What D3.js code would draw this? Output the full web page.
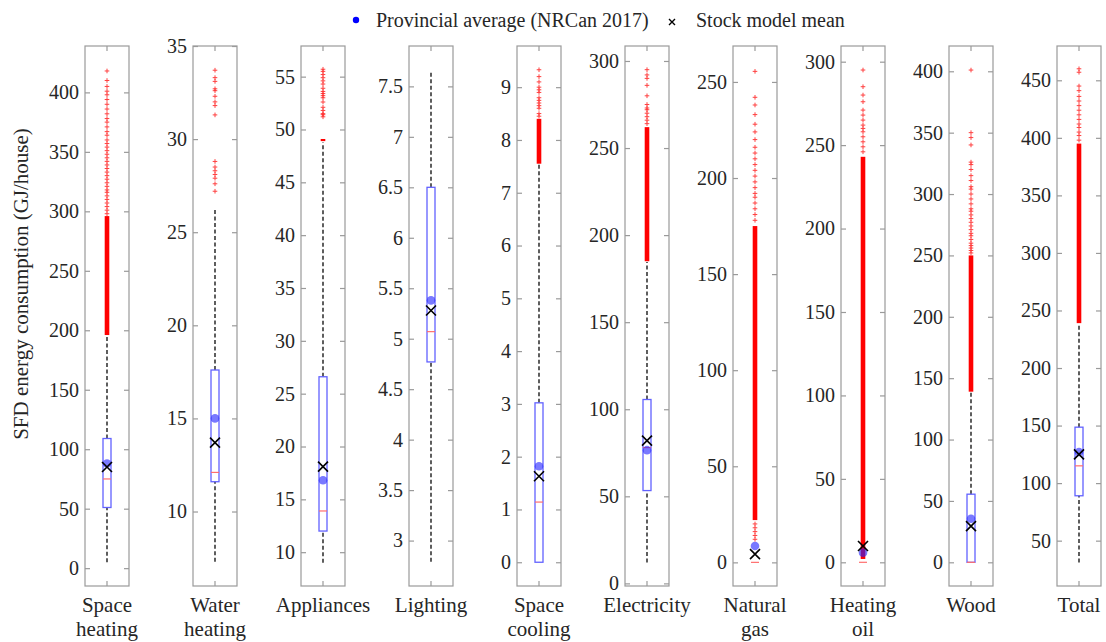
<!DOCTYPE html>
<html>
<head>
<meta charset="utf-8">
<script src="https://cdn.jsdelivr.net/npm/d3@7"></script>
<style>
  body { margin: 0; background: #fff; }
  text { font-family: "Liberation Serif", "Times New Roman", serif; fill: #262626; }
</style>
</head>
<body>
<svg id="chart" width="1106" height="642"></svg>
<script>
// category labels (one entry per panel, split over lines)
const categories = [["Space", "heating"], ["Water", "heating"], ["Appliances"], ["Lighting"],
  ["Space", "cooling"], ["Electricity"], ["Natural", "gas"], ["Heating", "oil"], ["Wood"], ["Total"]];

// y limits and tick labels of each panel
const yLimits = [[-15, 439], [6, 35], [6.8, 57.9], [2.55, 7.9], [-0.45, 9.78],
  [-1.5, 308.6], [-12.3, 268.7], [-14.2, 309.4], [-19.3, 420.6], [10.6, 479.8]];
const yTicks = [
  [0, 50, 100, 150, 200, 250, 300, 350, 400],
  [10, 15, 20, 25, 30, 35],
  [10, 15, 20, 25, 30, 35, 40, 45, 50, 55],
  [3, 3.5, 4, 4.5, 5, 5.5, 6, 6.5, 7, 7.5],
  [0, 1, 2, 3, 4, 5, 6, 7, 8, 9],
  [0, 50, 100, 150, 200, 250, 300],
  [0, 50, 100, 150, 200, 250],
  [0, 50, 100, 150, 200, 250, 300],
  [0, 50, 100, 150, 200, 250, 300, 350, 400],
  [50, 100, 150, 200, 250, 300, 350, 400, 450]
];

// box plot statistics (GJ/house)
const lowerWhisker = [5, 7.3, 9, 2.79, 0, 12, 0, 0, 0, 31];
const q1 = [51, 11.6, 12.0, 4.77, 0, 53.3, 0, 0, 0, 89];
const median = [75, 12.1, 13.9, 5.07, 1.14, 78, 0, 0, 0, 115];
const q3 = [109, 17.6, 26.6, 6.5, 3.02, 105.6, 0, 0, 55.5, 148.6];
const upperWhisker = [196, 26.2, 48.8, 7.66, 7.55, 184.5, 0, 0, 139, 239];
const stockMean = [85, 13.7, 18.1, 5.28, 1.63, 82, 4.3, 9.8, 29.5, 125];
const provincialAvg = [88, 15, 16.8, 5.38, 1.82, 76.5, 8.5, 5.8, 35.5, 127];

// outliers: solid runs of points, and the scattered ones
const denseOutliers = [[[196, 296]], [], [[48.9, 49.1]], [], [[7.55, 8.4]],
  [[185, 262]], [[22, 175]], [[2, 243]], [[139, 250]], [[239, 395]]];
const sparseOutliers = [
  [298, 301, 304, 307, 310, 313, 316, 318, 321, 324, 327, 330, 333, 336, 339, 342, 345, 348, 351, 354, 357, 360, 364, 367, 371, 375, 378, 382, 386, 390, 394, 398, 401, 405, 410, 418],
  [27.2, 27.6, 27.9, 28.1, 28.3, 28.5, 28.8, 31.3, 31.8, 32.0, 32.3, 32.6, 32.7, 33.1, 33.3, 33.7],
  [51.2, 51.4, 51.5, 51.8, 52.1, 52.6, 53.0, 53.2, 53.4, 53.6, 53.9, 54.3, 54.6, 54.9, 55.2, 55.5, 55.7],
  [],
  [8.45, 8.5, 8.6, 8.65, 8.7, 8.75, 8.8, 8.9, 8.95, 9.0, 9.1, 9.2, 9.33],
  [264, 266, 268, 270, 272, 273, 275, 280, 286, 290, 292, 295],
  [12, 14, 16, 18, 20, 178, 181, 184, 187, 190, 192, 195, 198, 201, 204, 207, 210, 213, 216, 220, 224, 228, 233, 238, 242, 255.5],
  [246, 249, 252, 255, 258, 260, 262, 265, 268, 271, 276, 280, 285, 295],
  [252, 254, 256, 258, 260, 263, 266, 268, 271, 274, 277, 280, 283, 286, 288, 292, 296, 300, 304, 306, 311, 315, 320, 324, 326, 340, 346, 350, 401],
  [398, 402, 405, 409, 412, 416, 420, 424, 428, 432, 436, 441, 445, 457, 460]
];

const svg = d3.select("#chart");
const plotTop = 46, plotBottom = 586, panelW = 44, boxW = 8;

const x = d3.scalePoint()
    .domain(d3.range(categories.length))
    .range([107, 1079]);

const frameColor = "#9a9a9a";

categories.forEach(function(cat, i) {
    const cx = x(i);
    const y = d3.scaleLinear().domain(yLimits[i]).range([plotBottom, plotTop]);
    const g = svg.append("g");

    // frame
    g.append("rect")
        .attr("x", cx - panelW / 2).attr("y", plotTop)
        .attr("width", panelW).attr("height", plotBottom - plotTop)
        .attr("fill", "none").attr("stroke", frameColor).attr("stroke-width", 1.2);

    // left axis with labels, right axis ticks only
    const left = g.append("g")
        .attr("transform", "translate(" + (cx - panelW / 2) + ",0)")
        .call(d3.axisLeft(y).tickValues(yTicks[i]).tickSize(-5).tickPadding(6).tickFormat(d3.format("")));
    left.select(".domain").remove();
    left.selectAll("line").attr("stroke", frameColor).attr("stroke-width", 1.2);
    left.selectAll("text").attr("font-size", 20).attr("fill", "#303030")
        .attr("font-family", "Liberation Serif, serif");

    const right = g.append("g")
        .attr("transform", "translate(" + (cx + panelW / 2) + ",0)")
        .call(d3.axisRight(y).tickValues(yTicks[i]).tickSize(-5).tickFormat(""));
    right.select(".domain").remove();
    right.selectAll("line").attr("stroke", frameColor).attr("stroke-width", 1.2);

    // center ticks top and bottom
    g.append("line").attr("x1", cx).attr("x2", cx).attr("y1", plotTop).attr("y2", plotTop + 5)
        .attr("stroke", frameColor).attr("stroke-width", 1.2);
    g.append("line").attr("x1", cx).attr("x2", cx).attr("y1", plotBottom).attr("y2", plotBottom - 5)
        .attr("stroke", frameColor).attr("stroke-width", 1.2);

    // whiskers
    if (q1[i] > lowerWhisker[i]) {
        g.append("line").attr("x1", cx).attr("x2", cx)
            .attr("y1", y(lowerWhisker[i])).attr("y2", y(q1[i]))
            .attr("stroke", "#1a1a1a").attr("stroke-width", 1.4).attr("stroke-dasharray", "4,2.5");
    }
    if (upperWhisker[i] > q3[i]) {
        g.append("line").attr("x1", cx).attr("x2", cx)
            .attr("y1", y(q3[i])).attr("y2", y(upperWhisker[i]))
            .attr("stroke", "#1a1a1a").attr("stroke-width", 1.4).attr("stroke-dasharray", "4,2.5");
    }

    // box
    if (q3[i] > q1[i]) {
        g.append("rect")
            .attr("x", cx - boxW / 2).attr("y", y(q3[i]))
            .attr("width", boxW).attr("height", y(q1[i]) - y(q3[i]))
            .attr("fill", "none").attr("stroke", "#6262ff").attr("stroke-width", 1.3);
    }
    // median
    g.append("line")
        .attr("x1", cx - boxW / 2).attr("x2", cx + boxW / 2)
        .attr("y1", y(median[i])).attr("y2", y(median[i]))
        .attr("stroke", "#ff6e6e").attr("stroke-width", 1.2);

    // outliers
    g.selectAll(".dense").data(denseOutliers[i]).enter().append("rect")
        .attr("x", cx - 2.3).attr("width", 4.6)
        .attr("y", function(d) { return y(d[1]); })
        .attr("height", function(d) { return Math.max(1.5, y(d[0]) - y(d[1])); })
        .attr("fill", "#ff0000");
    g.selectAll(".out").data(sparseOutliers[i]).enter().append("path")
        .attr("d", function(d) { return "M" + (cx - 2.3) + "," + y(d) + "h4.6M" + cx + "," + (y(d) - 2.3) + "v4.6"; })
        .attr("stroke", "#ff2020").attr("stroke-width", 1).attr("opacity", 0.85);

    // provincial average
    g.append("circle").attr("cx", cx).attr("cy", y(provincialAvg[i])).attr("r", 4.3)
        .attr("fill", "#2020ff").attr("opacity", 0.6);

    // stock model mean
    const my = y(stockMean[i]);
    g.append("path")
        .attr("d", "M" + (cx - 5) + "," + (my - 5) + "L" + (cx + 5) + "," + (my + 5) +
                   "M" + (cx - 5) + "," + (my + 5) + "L" + (cx + 5) + "," + (my - 5))
        .attr("stroke", "#000").attr("stroke-width", 1.6).attr("fill", "none");

    // category label
    const lab = g.append("text").attr("text-anchor", "middle").attr("font-size", 21);
    cat.forEach(function(line, k) {
        lab.append("tspan").attr("x", cx).attr("y", 612 + k * 24).text(line);
    });
});

// y-axis title
svg.append("text")
    .attr("transform", "translate(28,284) rotate(-90)")
    .attr("text-anchor", "middle").attr("font-size", 21)
    .text("SFD energy consumption (GJ/house)");

// legend
const legend = svg.append("g");
legend.append("circle").attr("cx", 356).attr("cy", 20).attr("r", 3.2).attr("fill", "#0000ff");
legend.append("text").attr("x", 376).attr("y", 27).attr("font-size", 20)
    .text("Provincial average (NRCan 2017)");
legend.append("path")
    .attr("d", "M669,19L675,25M669,25L675,19")
    .attr("stroke", "#000").attr("stroke-width", 1.4);
legend.append("text").attr("x", 696).attr("y", 27).attr("font-size", 20)
    .text("Stock model mean");
</script>
</body>
</html>
